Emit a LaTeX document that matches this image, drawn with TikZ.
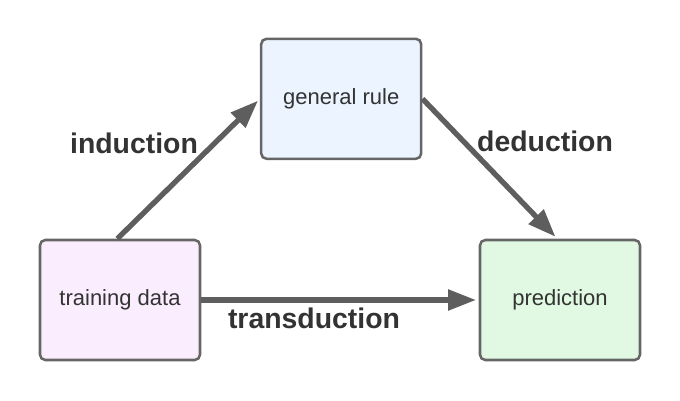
\documentclass[tikz,border=0pt]{standalone}
\usepackage{fontspec}
\setmainfont{Liberation Sans}
\usetikzlibrary{positioning}
\usetikzlibrary{arrows.meta}

\definecolor{edgegrey}{HTML}{5E5E5E}
\definecolor{boxline}{HTML}{666666}
\definecolor{textgrey}{HTML}{333333}
\definecolor{rulefill}{HTML}{EBF4FF}
\definecolor{datafill}{HTML}{FAEEFE}
\definecolor{predfill}{HTML}{E1F9E2}

\begin{document}
\begin{tikzpicture}[x=0.75pt, y=-0.75pt,
    box/.style={draw=boxline, line width=1.9pt, rounded corners=4pt, minimum width=120pt, minimum height=90pt, inner sep=0pt, text=textgrey, font=\fontsize{16.5}{18}\selectfont},
    link/.style={draw=edgegrey, line width=4pt, -{Triangle[length=21pt,width=15pt]}, shorten >=2pt},
    lbl/.style={text=textgrey, font=\fontsize{21.3}{24}\selectfont\bfseries}]

    \useasboundingbox (0,0) rectangle (680,400);

    \node [box, fill=datafill] (train) at (120,300) {training data};
    \node [box, fill=predfill, right=208.1pt of train] (pred) {prediction};
    \node [box, fill=rulefill, above right=59pt and 44pt of train.north east, anchor=south west] (rule) {general rule};

    \draw [link] ([xshift=-2pt]train.north) -- (rule.west);
    \draw [link] (rule.east) -- ([xshift=-2pt]pred.north);
    \draw [link] (train.east) -- (pred.west);

    \node [lbl] (ind) at (134,143) {induction};
    \node [lbl] (ded) at (545,141) {deduction};
    \node [lbl] (trans) at (314,318) {transduction};

\end{tikzpicture}
\end{document}
